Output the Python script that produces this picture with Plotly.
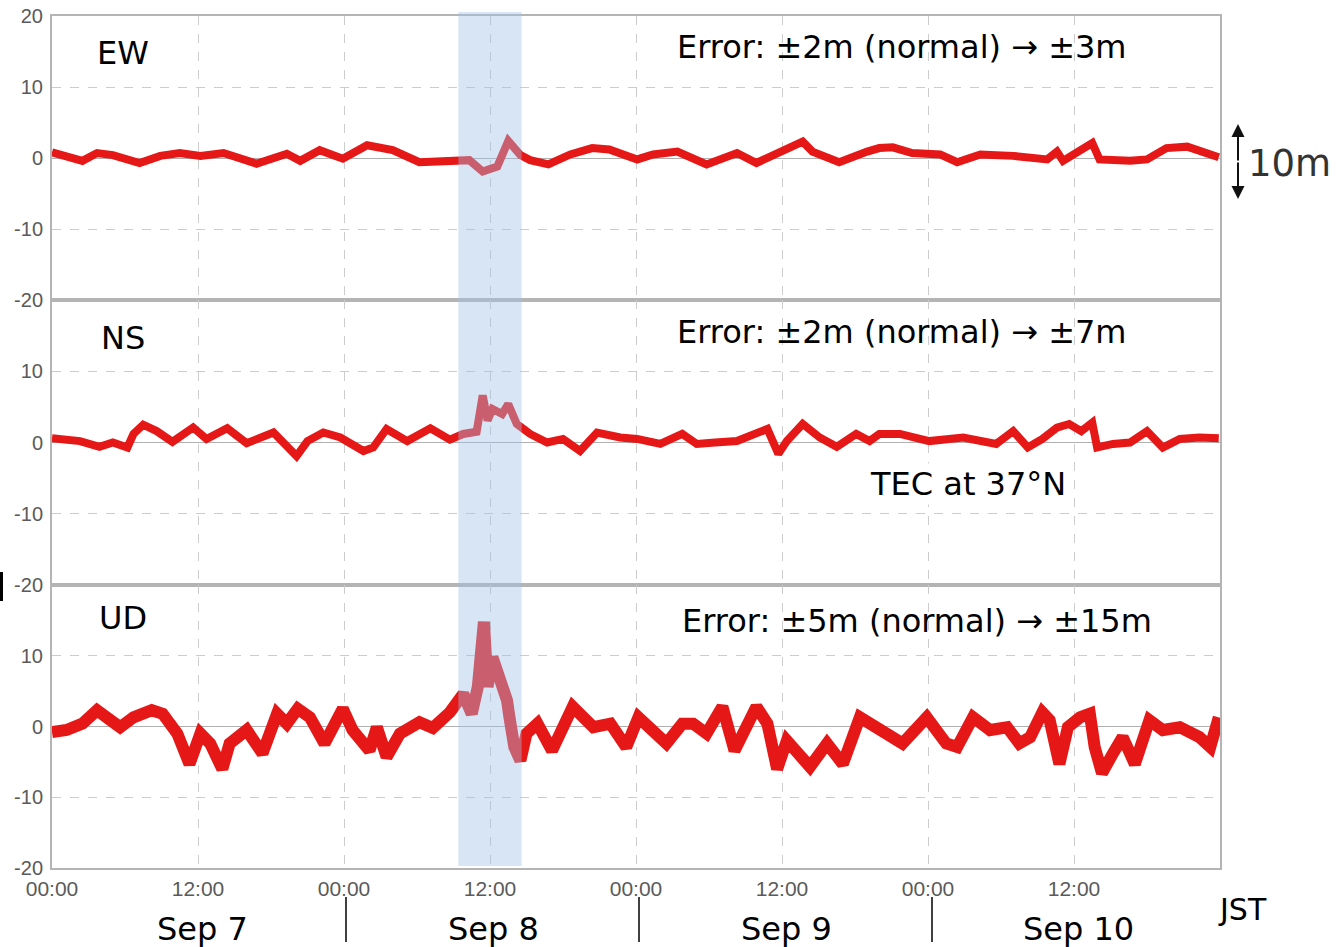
import plotly.graph_objects as go
from plotly.subplots import make_subplots

# Hours elapsed since Sep 7 00:00 JST, and displacement error (m) per component
ew_hours = [0, 2.5, 3.7, 5.0, 7.2, 8.9, 10.5, 12.2, 14.1, 16.8, 19.3, 20.4, 22.0, 23.9, 25.9,
            28.0, 30.2, 32.7, 34.3, 35.4, 36.6, 37.5, 38.5, 39.3, 40.8, 42.6, 44.4, 45.8, 48.1,
            49.4, 51.4, 53.8, 56.3, 57.9, 59.8, 61.7, 62.5, 64.7, 67.0, 68.0, 69.1, 70.7, 73.0,
            74.4, 76.3, 79.0, 81.8, 82.6, 83.1, 84.5, 85.5, 86.1, 88.6, 90.0, 91.6, 93.3, 94.9, 95.9]
ew_values = [0.8, -0.4, 0.7, 0.4, -0.7, 0.3, 0.7, 0.3, 0.7, -0.8, 0.6, -0.4, 1.1, -0.1, 1.8,
             1.1, -0.6, -0.4, -0.3, -1.9, -1.2, 2.4, 0.4, -0.3, -0.9, 0.5, 1.4, 1.2, -0.2,
             0.5, 0.9, -0.9, 0.7, -0.7, 0.9, 2.3, 0.9, -0.6, 0.9, 1.4, 1.5, 0.7, 0.5,
             -0.6, 0.5, 0.3, -0.2, 0.9, -0.4, 0.9, 2.1, -0.2, -0.4, -0.2, 1.4, 1.6, 0.7, 0.1]

ns_hours = [0, 2.3, 3.9, 5.0, 6.2, 6.7, 7.5, 8.6, 9.9, 11.6, 12.7, 14.4, 16.0, 18.2, 20.1, 21.0,
            22.3, 23.7, 25.6, 26.4, 27.5, 29.2, 31.1, 32.7, 33.8, 34.9, 35.4, 35.8, 36.2, 37.0,
            37.5, 38.2, 39.3, 40.7, 42.0, 43.4, 44.8, 46.7, 48.1, 50.0, 51.8, 53.0, 54.5, 56.3,
            58.8, 59.7, 60.4, 61.7, 63.1, 64.5, 66.1, 67.2, 68.0, 69.7, 72.1, 74.9, 77.6, 79.0,
            80.2, 81.4, 82.6, 83.6, 84.6, 85.5, 85.9, 87.2, 88.6, 90.0, 91.3, 92.7, 94.3, 95.9]
ns_values = [0.6, 0.2, -0.6, 0.0, -0.7, 1.2, 2.5, 1.6, 0.1, 2.1, 0.5, 2.0, -0.1, 1.4, -1.9, 0.2,
             1.4, 0.7, -1.2, -0.7, 1.9, 0.2, 2.0, 0.4, 1.2, 1.5, 6.6, 3.1, 4.7, 4.0,
             5.4, 2.6, 1.2, 0.0, 0.5, -1.2, 1.4, 0.7, 0.5, -0.2, 1.2, -0.2, 0.0, 0.2,
             1.9, -1.6, 0.2, 2.6, 0.7, -0.6, 1.2, 0.2, 1.2, 1.2, 0.2, 0.7, -0.2, 1.6,
             -0.7, 0.5, 2.1, 2.6, 1.6, 2.8, -0.7, -0.2, 0.0, 1.6, -0.7, 0.5, 0.7, 0.6]

ud_hours = [0, 1.2, 2.5, 3.7, 4.8, 5.6, 6.7, 8.2, 9.1, 10.3, 11.3, 12.2, 13.0, 14.0, 14.6, 16.0,
            17.3, 18.5, 19.3, 20.2, 21.2, 22.4, 23.9, 24.7, 26.1, 26.7, 27.5, 28.6, 30.2, 31.3,
            32.7, 33.3, 33.8, 34.5, 35.0, 35.5, 35.8, 36.2, 36.8, 37.4, 37.6, 38.0, 38.5, 39.0,
            39.9, 41.1, 42.8, 44.5, 45.9, 47.2, 48.2, 49.4, 50.5, 51.8, 52.7, 53.8, 55.1, 56.1,
            57.9, 58.8, 59.6, 60.4, 62.3, 63.7, 65.0, 66.4, 67.2, 68.0, 69.9, 71.9, 73.5, 74.4,
            75.7, 77.1, 78.5, 79.5, 80.4, 81.4, 82.0, 82.8, 83.5, 84.5, 85.3, 85.7, 86.3, 87.2,
            88.0, 89.0, 90.2, 91.3, 92.7, 94.3, 95.2, 95.9]
ud_values = [-0.8, -0.5, 0.4, 2.3, 0.9, -0.1, 1.3, 2.3, 1.8, -1.0, -5.3, -1.0, -2.4, -6.0, -2.4, -0.5,
             -3.8, 1.8, 0.4, 2.5, 1.3, -2.4, 2.5, -0.5, -3.4, -0.1, -4.3, -1.0, 0.6, -0.2,
             2.0, 3.9, 4.6, 1.8, 5.6, 14.8, 5.6, 9.8, 7.0, 3.7, 1.3, -2.9, -4.8, -1.0,
             0.4, -3.4, 2.8, -0.1, 0.4, -2.9, 1.3, -0.5, -2.4, 0.4, 0.4, -1.0, 2.8, -3.4,
             2.8, 0.4, -6.0, -2.0, -5.7, -2.4, -5.3, 1.3, 0.4, -0.3, -2.4, 1.3, -2.4, -2.9,
             1.3, -0.5, -0.1, -2.4, -1.5, 2.0, 0.9, -5.3, -0.1, 1.3, 1.8, -2.9, -6.6, -3.8,
             -1.5, -5.3, 0.9, -0.5, -0.1, -1.5, -2.9, 1.3]

components = ["EW", "NS", "UD"]
error_notes = ["Error: ±2m (normal) → ±3m",
               "Error: ±2m (normal) → ±7m",
               "Error: ±5m (normal) → ±15m"]
x_tick_hours = [0, 12, 24, 36, 48, 60, 72, 84]
x_tick_text = ["00:00", "12:00", "00:00", "12:00", "00:00", "12:00", "00:00", "12:00"]
y_tick_vals = [-20, -10, 0, 10, 20]
y_tick_text = ["-20", "-10", "0", "10", "20"]
day_labels = ["Sep 7", "Sep 8", "Sep 9", "Sep 10"]
storm_window = [33.4, 38.6]

W, H = 1338, 947


def px(x):
    return x / W


def py(y):
    return 1 - y / H


RED = "#e61717"
fig = make_subplots(rows=3, cols=1, vertical_spacing=0)

series = [(ew_hours, ew_values, 8), (ns_hours, ns_values, 8), (ud_hours, ud_values, 12)]
for i, (hx, vy, w) in enumerate(series, start=1):
    fig.add_trace(go.Scatter(x=hx, y=vy, mode="lines",
                             line=dict(color=RED, width=w, shape="linear"),
                             showlegend=False, hoverinfo="skip"), row=i, col=1)

x_dom = [px(52), px(1220)]
y_doms = [[py(300), py(16)], [py(585), py(300)], [py(868), py(585)]]
axis_color = "#b4b4b4"
grid_color = "#cccccc"
tick_font = dict(family="Liberation Sans, Arial, sans-serif", size=20, color="#5a5a5a")

for i in range(3):
    sfx = "" if i == 0 else str(i + 1)
    n_y = 5 if i == 0 else 4
    fig.layout["xaxis" + sfx].update(
        domain=x_dom, range=[0, 96], tickvals=x_tick_hours, ticktext=x_tick_text,
        showticklabels=(i == 2), showgrid=True, gridcolor=grid_color, griddash="dash",
        gridwidth=1, showline=True, mirror=True, linecolor=axis_color, linewidth=2,
        ticks="", zeroline=False, automargin=False, ticklabelstandoff=1,
        tickfont=dict(family="Liberation Sans, Arial, sans-serif", size=21, color="#5a5a5a"),
        fixedrange=True)
    fig.layout["yaxis" + sfx].update(
        domain=y_doms[i], range=[-20, 20],
        tickvals=y_tick_vals[:n_y], ticktext=y_tick_text[:n_y],
        showgrid=True, gridcolor=grid_color, griddash="dash", gridwidth=1,
        zeroline=True, zerolinecolor="#b0b0b0", zerolinewidth=1,
        showline=True, mirror=True, linecolor=axis_color, linewidth=2,
        ticks="", tickfont=tick_font, automargin=False, ticklabelstandoff=3,
        fixedrange=True)

# Shaded interval of the disturbance, laid over all three panels
fig.add_shape(type="rect", xref="x3", yref="paper",
              x0=storm_window[0], x1=storm_window[1], y0=py(866), y1=py(12),
              fillcolor="rgba(160,192,230,0.42)", line_width=0, layer="above")

label_font = dict(family="DejaVu Sans, Verdana, sans-serif", size=32, color="#000000")
panel_label_y = [53, 338, 618]
note_pos = [(675, 47), (675, 332), (680, 621)]
for name, ly in zip(components, panel_label_y):
    fig.add_annotation(text=name, x=px(123), y=py(ly), xref="paper", yref="paper",
                       xanchor="center", yanchor="middle", showarrow=False, font=label_font)
for note, (nx, ny) in zip(error_notes, note_pos):
    fig.add_annotation(text=note, x=px(nx), y=py(ny), xref="paper", yref="paper",
                       xanchor="left", yanchor="middle", showarrow=False, font=label_font)

fig.add_annotation(text="TEC at 37°N", x=px(868), y=py(484), xref="paper", yref="paper",
                   xanchor="left", yanchor="middle", showarrow=False, font=label_font,
                   bgcolor="#ffffff")

# Day names under the time axis and separators at midnight
day_centers = [202, 493, 786, 1078]
for d, cx in zip(day_labels, day_centers):
    fig.add_annotation(text=d, x=px(cx), y=py(929), xref="paper", yref="paper",
                       xanchor="center", yanchor="middle", showarrow=False, font=label_font)
for sx in [346, 639, 932]:
    fig.add_shape(type="line", xref="paper", yref="paper", x0=px(sx), x1=px(sx),
                  y0=py(897), y1=py(942), line=dict(color="#000000", width=1.5))

fig.add_annotation(text="JST", x=px(1216), y=py(909), xref="paper", yref="paper",
                   xanchor="left", yanchor="middle", showarrow=False,
                   font=dict(family="DejaVu Sans, Verdana, sans-serif", size=30, color="#000000"))

# 10 m scale bar on the right of the EW panel
for tip, tail in [(124, 162), (199, 161)]:
    fig.add_annotation(text="", x=px(1238), y=py(tip), xref="paper", yref="paper",
                       ax=0, ay=tail - tip, axref="pixel", ayref="pixel",
                       showarrow=True, arrowhead=2, arrowsize=1.3, arrowwidth=2,
                       arrowcolor="#111111", standoff=0)
fig.add_annotation(text="10m", x=px(1246), y=py(163), xref="paper", yref="paper",
                   xanchor="left", yanchor="middle", showarrow=False,
                   font=dict(family="DejaVu Sans, Verdana, sans-serif", size=37, color="#333333"))

fig.add_shape(type="line", xref="paper", yref="paper", x0=px(1.5), x1=px(1.5),
              y0=py(572), y1=py(601), line=dict(color="#000000", width=3))

fig.update_layout(width=W, height=H, margin=dict(l=0, r=0, t=0, b=0, autoexpand=False),
                  paper_bgcolor="#ffffff", plot_bgcolor="#ffffff", showlegend=False)

fig.write_html("out.html")
